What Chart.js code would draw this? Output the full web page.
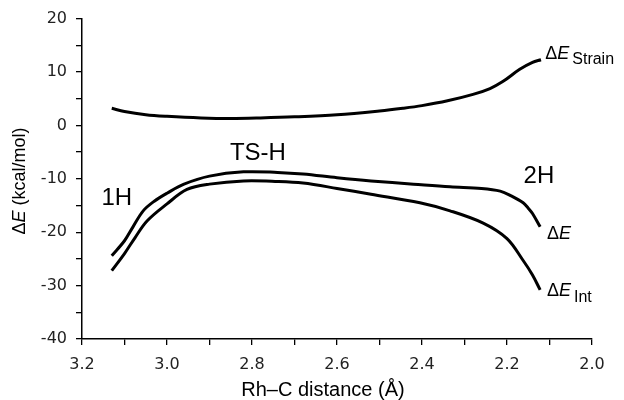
<!DOCTYPE html>
<html>
<head>
<meta charset="utf-8">
<script src="https://cdn.jsdelivr.net/npm/chart.js@4"></script>
<style>
  html, body { margin: 0; padding: 0; background: #fff; }
  #wrap { width: 624px; height: 400px; }
</style>
</head>
<body>
<div id="wrap"><canvas id="chart" width="624" height="400"></canvas></div>
<script>
// data (Rh-C distance in Å, energy in kcal/mol)
const rStrain = [3.13, 3.10, 3.05, 3.0, 2.92, 2.85, 2.78, 2.70, 2.60, 2.50, 2.445, 2.40, 2.34, 2.28, 2.24, 2.21, 2.17, 2.14, 2.12];
const eStrain = [3.2, 2.6, 2.0, 1.7, 1.4, 1.3, 1.4, 1.6, 2.0, 2.7, 3.2, 3.7, 4.6, 5.8, 6.9, 8.2, 10.5, 11.8, 12.3];

const rTotal = [3.13, 3.10, 3.08, 3.056, 3.03, 3.0, 2.96, 2.90, 2.82, 2.74, 2.68, 2.60, 2.52, 2.42, 2.334, 2.26, 2.216, 2.19, 2.162, 2.15, 2.14, 2.122];
const eTotal = [-24.4, -21.6, -19.0, -16.0, -14.2, -12.7, -11.0, -9.5, -8.7, -8.8, -9.1, -9.8, -10.4, -11.0, -11.5, -11.8, -12.3, -13.2, -14.5, -15.5, -16.5, -19.0];

const rInt = [3.13, 3.10, 3.075, 3.047, 3.0, 2.953, 2.90, 2.82, 2.74, 2.68, 2.60, 2.52, 2.405, 2.334, 2.256, 2.20, 2.162, 2.14, 2.122];
const eInt = [-27.2, -24.0, -21.0, -17.9, -14.7, -12.0, -11.0, -10.4, -10.5, -10.8, -11.8, -12.9, -14.5, -16.0, -18.3, -21.2, -25.3, -28.0, -30.8];

const xMin = 2.0, xMax = 3.2;
const yMin = -40, yMax = 20;

// text labels placed next to the curves, in data coords
const curveLabels = [
  { main: "\u0394", it: "E", sub: "Strain", r: 2.11, e: 13.4 },
  { main: "\u0394", it: "E", sub: "", r: 2.106, e: -20.3 },
  { main: "\u0394", it: "E", sub: "Int", r: 2.106, e: -31.1 }
];
const stateLabels = [
  { text: "1H", r: 3.118, e: -13.6 },
  { text: "TS-H", r: 2.786, e: -5.2 },
  { text: "2H", r: 2.125, e: -9.5 }
];

function toPts(xs, ys) {
  return xs.map((x, i) => ({ x: x, y: ys[i] }));
}

const textPlugin = {
  id: "texts",
  afterDraw(chart) {
    const ctx = chart.ctx;
    const xs = chart.scales.x, ys = chart.scales.y;
    ctx.save();
    ctx.fillStyle = "#000";
    ctx.textBaseline = "middle";

    curveLabels.forEach(l => {
      let px = xs.getPixelForValue(l.r);
      const py = ys.getPixelForValue(l.e);
      ctx.textAlign = "left";
      ctx.font = "18px 'Liberation Sans', Arial, sans-serif";
      ctx.fillText(l.main, px, py);
      px += ctx.measureText(l.main).width;
      ctx.font = "italic 18px 'Liberation Sans', Arial, sans-serif";
      ctx.fillText(l.it, px, py);
      px += ctx.measureText(l.it).width + 3;
      if (l.sub) {
        ctx.font = "16px 'Liberation Sans', Arial, sans-serif";
        ctx.fillText(l.sub, px, py + 6);
      }
    });

    ctx.textAlign = "center";
    ctx.font = "24px 'Liberation Sans', Arial, sans-serif";
    stateLabels.forEach(l => {
      ctx.fillText(l.text, xs.getPixelForValue(l.r), ys.getPixelForValue(l.e));
    });

    // x axis title
    ctx.font = "20px 'Liberation Sans', Arial, sans-serif";
    ctx.fillText("Rh\u2013C distance (\u00c5)", 323, 390);

    // y axis title, rotated, with italic E
    ctx.translate(20, 181);
    ctx.rotate(-Math.PI / 2);
    const parts = [
      { t: "\u0394", f: "18px 'Liberation Sans', Arial, sans-serif" },
      { t: "E", f: "italic 18px 'Liberation Sans', Arial, sans-serif" },
      { t: " (kcal/mol)", f: "18px 'Liberation Sans', Arial, sans-serif" }
    ];
    let total = 0;
    parts.forEach(p => { ctx.font = p.f; total += ctx.measureText(p.t).width; });
    let cx = -total / 2;
    ctx.textAlign = "left";
    parts.forEach(p => {
      ctx.font = p.f;
      ctx.fillText(p.t, cx, 0);
      cx += ctx.measureText(p.t).width;
    });
    ctx.restore();
  }
};

const lineStyle = {
  showLine: true,
  borderColor: "#000",
  borderWidth: 3,
  pointRadius: 0,
  tension: 0.35,
  fill: false
};

new Chart(document.getElementById("chart"), {
  type: "scatter",
  data: {
    datasets: [
      Object.assign({ label: "Strain", data: toPts(rStrain, eStrain) }, lineStyle),
      Object.assign({ label: "Total", data: toPts(rTotal, eTotal) }, lineStyle),
      Object.assign({ label: "Int", data: toPts(rInt, eInt) }, lineStyle)
    ]
  },
  options: {
    responsive: false,
    animation: false,
    layout: { padding: { top: 17, right: 32, left: 0, bottom: 0 } },
    plugins: { legend: { display: false }, tooltip: { enabled: false } },
    scales: {
      x: {
        type: "linear",
        reverse: true,
        min: xMin,
        max: xMax,
        afterFit(scale) { scale.height = 61; },
        grid: { display: true, drawOnChartArea: false, drawTicks: true, tickLength: 6, color: "#000", lineWidth: 1.3 },
        border: { display: true, color: "#000", width: 1.5 },
        ticks: {
          stepSize: 0.1,
          autoSkip: false,
          maxRotation: 0,
          padding: 10,
          color: "#222",
          font: { family: "'DejaVu Sans', Verdana, sans-serif", size: 16 },
          callback(v) {
            const k = Math.round(v * 10);
            return k % 2 === 0 ? (k / 10).toFixed(1) : "";
          }
        }
      },
      y: {
        min: yMin,
        max: yMax,
        afterFit(scale) { scale.width = 82; },
        grid: { display: true, drawOnChartArea: false, drawTicks: true, tickLength: 6, color: "#000", lineWidth: 1.3 },
        border: { display: true, color: "#000", width: 1.5 },
        ticks: {
          stepSize: 5,
          autoSkip: false,
          padding: 9,
          color: "#222",
          font: { family: "'DejaVu Sans', Verdana, sans-serif", size: 16 },
          callback(v) {
            return v % 10 === 0 ? String(v) : "";
          }
        }
      }
    }
  },
  plugins: [textPlugin]
});
</script>
</body>
</html>
